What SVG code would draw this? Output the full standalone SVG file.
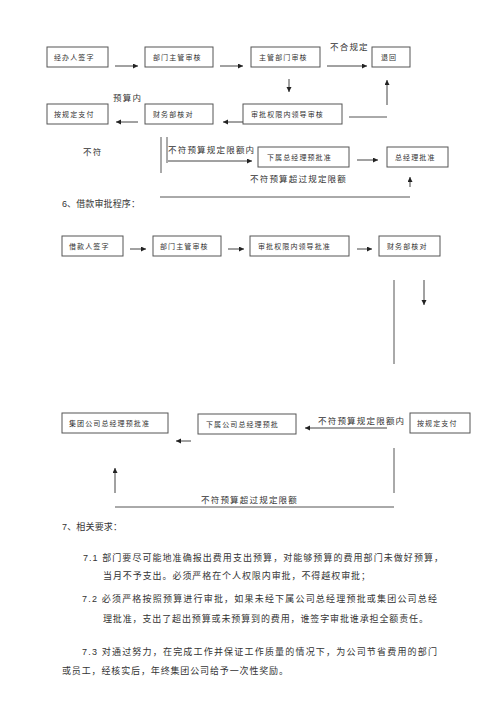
<svg xmlns="http://www.w3.org/2000/svg" width="500" height="707" viewBox="0 0 500 707">
<style>
.bg{fill:#fff}
.box rect{fill:#fff;stroke:#555;stroke-width:1}
.bt{font-family:"Noto Sans CJK SC",sans-serif;font-size:7px;letter-spacing:1.1px;fill:#333}
.lt{font-family:"Noto Sans CJK SC",sans-serif;font-size:8.5px;letter-spacing:1.2px;fill:#333}
.body{font-family:"Liberation Sans","Noto Sans CJK SC",sans-serif;font-size:9px;fill:#333}
.ln{stroke:#555;stroke-width:1;fill:none}
.ar{stroke:#444;stroke-width:1;fill:none;marker-end:url(#ah)}
</style>
<defs>
<marker id="ah" markerUnits="userSpaceOnUse" markerWidth="6" markerHeight="6" refX="5" refY="2.5" orient="auto">
<path d="M0,0 L5,2.5 L0,5 Z" fill="#222"/>
</marker>
</defs>
<rect class="bg" x="0" y="0" width="500" height="707"/>

<g id="n1" class="box"><rect x="47" y="47" width="61" height="20"/><text class="bt" x="54" y="60">经办人签字</text></g>
<g id="n2" class="box"><rect x="145" y="47" width="68" height="20"/><text class="bt" x="153" y="60">部门主管审核</text></g>
<g id="n3" class="box"><rect x="251" y="47" width="69" height="20"/><text class="bt" x="259" y="60">主管部门审核</text></g>
<g id="n4" class="box"><rect x="372" y="47" width="38" height="20"/><text class="bt" x="381" y="60">退回</text></g>
<g id="n5" class="box"><rect x="243" y="104" width="99" height="20"/><text class="bt" x="251" y="117">审批权限内领导审核</text></g>
<g id="n6" class="box"><rect x="145" y="104" width="68" height="20"/><text class="bt" x="153" y="117">财务部核对</text></g>
<g id="n7" class="box"><rect x="47" y="104" width="61" height="20"/><text class="bt" x="54" y="117">按规定支付</text></g>
<g id="n8" class="box"><rect x="258" y="147" width="91" height="20"/><text class="bt" x="267" y="160">下属总经理预批准</text></g>
<g id="n9" class="box"><rect x="387" y="147" width="61" height="20"/><text class="bt" x="395" y="160">总经理批准</text></g>

<g id="n10" class="box"><rect x="62" y="236" width="61" height="20"/><text class="bt" x="69" y="249">借款人签字</text></g>
<g id="n11" class="box"><rect x="153" y="236" width="68" height="20"/><text class="bt" x="160" y="249">部门主管审核</text></g>
<g id="n12" class="box"><rect x="250" y="236" width="99" height="20"/><text class="bt" x="258" y="249">审批权限内领导批准</text></g>
<g id="n13" class="box"><rect x="379" y="236" width="61" height="20"/><text class="bt" x="387" y="249">财务部核对</text></g>
<g id="n14" class="box"><rect x="62" y="413" width="106" height="20"/><text class="bt" x="69" y="426">集团公司总经理预批准</text></g>
<g id="n15" class="box"><rect x="198" y="414" width="98" height="20"/><text class="bt" x="206" y="427">下属公司总经理预批</text></g>
<g id="n16" class="box"><rect x="410" y="413" width="60" height="20"/><text class="bt" x="417" y="426">按规定支付</text></g>

<g id="connectors">
<path class="ar" d="M115,66 H138"/>
<path class="ar" d="M220,66 H243"/>
<path class="ar" d="M327,66 H367"/>
<path class="ar" d="M289,79 V92"/>
<path class="ar" d="M387,105 V80"/>
<path class="ln" d="M349,117 H387"/>
<path class="ar" d="M243,122 H223"/>
<path class="ar" d="M138,122 H116"/>
<path class="ln" d="M161,137 V173"/>
<path class="ln" d="M167,137 V163"/>
<path class="ar" d="M168,161 H252"/>
<path class="ar" d="M357,160 H378"/>
<path class="ar" d="M410,187 V177"/>
<path class="ln" d="M160,197 H410"/>

<path class="ar" d="M130,249 H146"/>
<path class="ar" d="M228,249 H244"/>
<path class="ar" d="M357,249 H372"/>
<path class="ln" d="M394,280 V364"/>
<path class="ar" d="M424,280 V305"/>
<path class="ar" d="M387,428 H305"/>
<path class="ar" d="M191,441 H176"/>
<path class="ln" d="M394,448 V493"/>
<path class="ar" d="M115,493 V468"/>
<path class="ln" d="M115,507 H394"/>
</g>

<g id="labels">
<text class="lt" x="330" y="50">不合规定</text>
<text class="lt" x="113" y="101">预算内</text>
<text class="lt" x="83" y="155">不符</text>
<text class="lt" x="168" y="153">不符预算规定限额内</text>
<text class="lt" x="250" y="182">不符预算超过规定限额</text>
<text class="lt" x="318" y="424">不符预算规定限额内</text>
<text class="lt" x="201" y="503">不符预算超过规定限额</text>
</g>

<g id="body">
<text class="body" x="62" y="207" textLength="78" lengthAdjust="spacing">6、借款审批程序：</text>
<text class="body" x="62" y="530" textLength="60" lengthAdjust="spacing">7、相关要求：</text>
<text class="body" x="83" y="561" textLength="360" lengthAdjust="spacing">7.1 部门要尽可能地准确报出费用支出预算，对能够预算的费用部门未做好预算，</text>
<text class="body" x="103" y="579" textLength="267" lengthAdjust="spacing">当月不予支出。必须严格在个人权限内审批，不得越权审批；</text>
<text class="body" x="82" y="602" textLength="355" lengthAdjust="spacing">7.2 必须严格按照预算进行审批，如果未经下属公司总经理预批或集团公司总经</text>
<text class="body" x="103" y="622" textLength="325" lengthAdjust="spacing">理批准，支出了超出预算或未预算到的费用，谁签字审批谁承担全额责任。</text>
<text class="body" x="82" y="655" textLength="355" lengthAdjust="spacing">7.3 对通过努力，在完成工作并保证工作质量的情况下，为公司节省费用的部门</text>
<text class="body" x="62" y="674" textLength="226" lengthAdjust="spacing">或员工，经核实后，年终集团公司给予一次性奖励。</text>
</g>
</svg>
